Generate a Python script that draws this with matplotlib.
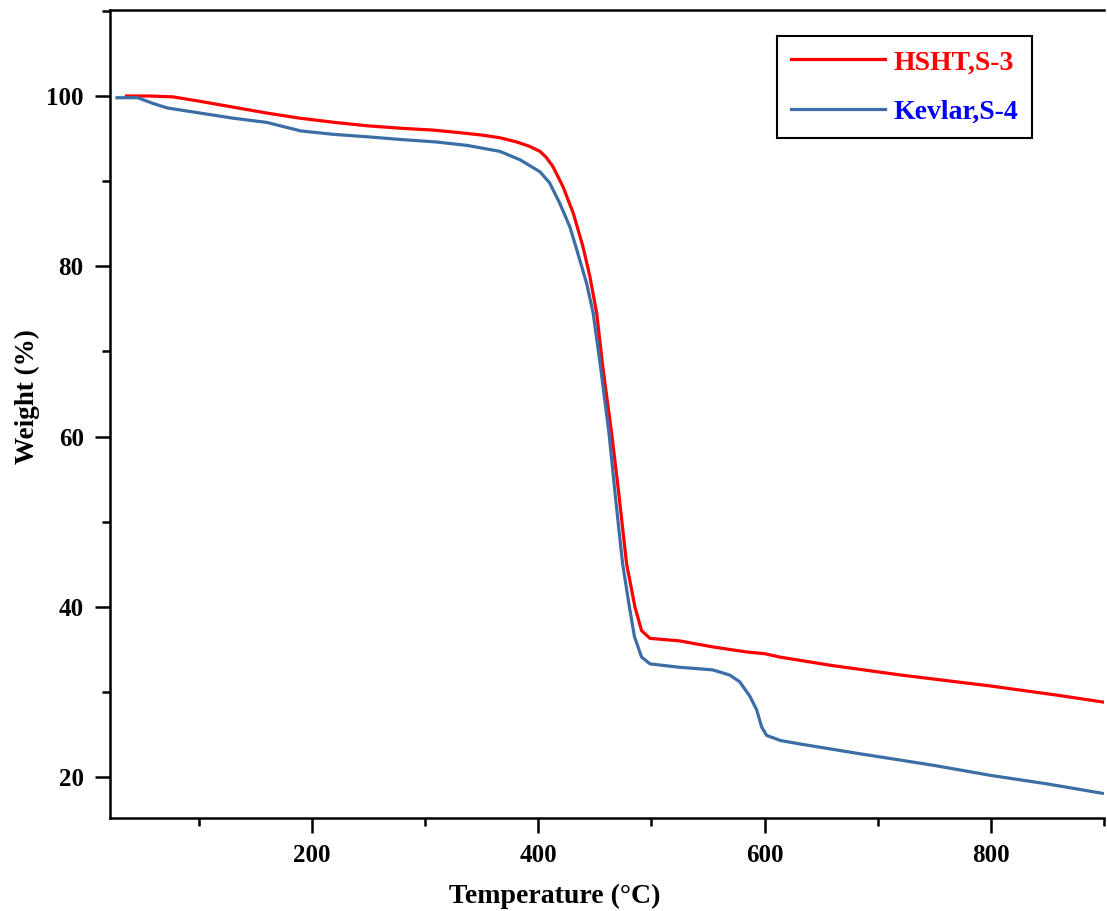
import matplotlib
matplotlib.use("Agg")
import matplotlib.pyplot as plt
from matplotlib.ticker import MultipleLocator

plt.rcParams['font.family'] = ['Liberation Serif', 'DejaVu Serif']
plt.rcParams['font.weight'] = 'bold'

# HSHT (S-3) TGA curve
hsht_temp = [36, 57, 77, 100, 130, 160, 189, 220, 249, 280, 307, 330, 351, 366, 381, 392,
             401.5, 407, 413, 422, 431, 439.5, 445.6, 451.6, 457, 464.8, 471, 478, 485.4,
             491.3, 498.7, 525, 554, 584, 600, 613.5, 660, 720, 800, 860, 900]
hsht_weight = [100, 100, 99.9, 99.4, 98.7, 98.0, 97.4, 96.9, 96.5, 96.2, 96.0, 95.7, 95.4, 95.1,
               94.6, 94.1, 93.5, 92.8, 91.7, 89.3, 86.2, 82.3, 78.8, 74.5, 68.2, 60.4, 53.5,
               45.1, 40.0, 37.2, 36.3, 36.0, 35.3, 34.7, 34.5, 34.1, 33.1, 32.0, 30.7, 29.6, 28.8]

# Kevlar (S-4) TGA curve
kevlar_temp = [27.7, 46, 60, 72, 101, 130, 160, 190, 218.6, 250, 277.8, 310, 337, 366, 384,
               401.5, 410, 419, 428, 435, 442.7, 448.5, 455, 462.5, 468.5, 474.5, 480.5, 485,
               491.3, 498.7, 525, 554, 569, 578, 587, 593, 597.4, 601.8, 614, 631, 681.6,
               748.7, 800, 850, 898.5]
kevlar_weight = [99.8, 99.8, 99.1, 98.6, 98.0, 97.4, 96.9, 95.9, 95.5, 95.2, 94.9, 94.6, 94.2,
                 93.5, 92.5, 91.1, 89.8, 87.4, 84.6, 81.5, 78.0, 74.5, 68.2, 60.4, 52.5, 45.1,
                 40.0, 36.5, 34.1, 33.3, 32.9, 32.6, 32.0, 31.2, 29.5, 27.9, 25.9, 24.9, 24.3,
                 23.9, 22.8, 21.4, 20.2, 19.2, 18.1]

fig = plt.figure(figsize=(11.07, 9.11), dpi=100)
ax = fig.add_axes([0.0994, 0.1021, 0.8979, 0.8869])

ax.plot(hsht_temp, hsht_weight, color='#ff0000', lw=2.3, label='HSHT,S-3')
ax.plot(kevlar_temp, kevlar_weight, color='#3b6ea5', lw=2.3, label='Kevlar,S-4')

ax.set_xlim(21.5, 900)
ax.set_ylim(15.2, 110.1)

ax.xaxis.set_major_locator(MultipleLocator(200))
ax.xaxis.set_minor_locator(MultipleLocator(100))
ax.yaxis.set_major_locator(MultipleLocator(20))
ax.yaxis.set_minor_locator(MultipleLocator(10))

ax.spines['right'].set_visible(False)
for s in ['left', 'bottom', 'top']:
    ax.spines[s].set_linewidth(1.8)

ax.tick_params(which='major', direction='out', length=11, width=1.8, labelsize=18, pad=8)
ax.tick_params(which='minor', direction='out', length=5.5, width=1.8)
ax.tick_params(top=False, right=False)
for lab in ax.get_xticklabels() + ax.get_yticklabels():
    lab.set_fontweight('bold')

ax.set_xlabel('Temperature (°C)', fontsize=20, fontweight='bold')
ax.set_ylabel('Weight (%)', fontsize=19.5, fontweight='bold')
ax.xaxis.set_label_coords(0.447, -0.082)
ax.yaxis.set_label_coords(-0.070, 0.522)

leg = ax.legend(loc='upper right', bbox_to_anchor=(0.9275, 0.968), borderaxespad=0,
                fontsize=20, handlelength=3.4, handletextpad=0.3, labelspacing=0.85,
                fancybox=False, edgecolor='black', framealpha=1, borderpad=0.5)
leg.get_frame().set_linewidth(1.5)
for txt, c in zip(leg.get_texts(), ['#ff0000', '#0000ff']):
    txt.set_color(c)
    txt.set_fontweight('bold')

fig.savefig('out.png', dpi=100)
